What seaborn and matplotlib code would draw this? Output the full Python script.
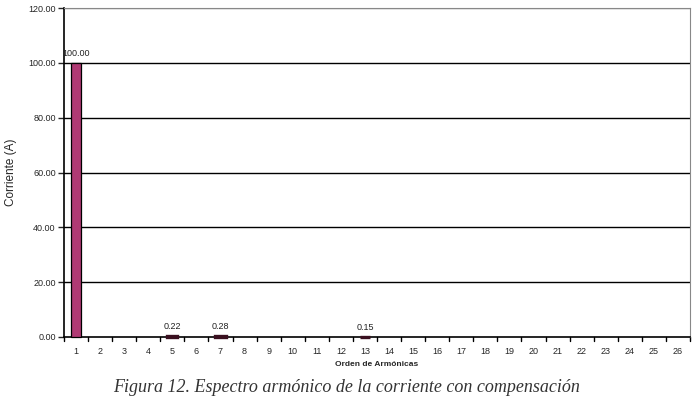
import numpy as np
import pandas as pd
from matplotlib import pyplot as plt
import seaborn as sns

orden = [str(i) for i in range(1, 27)]
corriente = [100.0, 0, 0, 0, 0.22, 0, 0.28, 0, 0, 0, 0, 0, 0.15,
             0, 0, 0, 0, 0, 0, 0, 0, 0, 0, 0, 0, 0]
yticks = [0, 20, 40, 60, 80, 100, 120]

sns.set_style("white")
plt.rcParams['font.family'] = ['Liberation Sans', 'DejaVu Sans']

df = pd.DataFrame({"orden": orden, "corriente": corriente})

fig = plt.figure(figsize=(6.94, 4.05), dpi=100)
ax = fig.add_axes([0.0922, 0.168, 0.902, 0.812])
sns.barplot(data=df, x="orden", y="corriente", color="#B03A74", saturation=1,
            width=0.42, edgecolor="black", linewidth=0.9, ax=ax)
for p, v in zip(ax.patches, corriente):
    p.set_zorder(3)
    p.set_clip_on(False)
    if v == 0:
        p.set_visible(False)
    elif v < 1:
        p.set_facecolor("#5a1f38")
        p.set_edgecolor("#3a1020")
        p.set_linewidth(2.4)

for i, v in enumerate(corriente):
    if v > 0:
        ax.text(i, v + 1.8, "%.2f" % v, ha="center", va="bottom", fontsize=6.5, color="#222222")

ax.set_ylim(0, 120)
ax.set_xlim(-0.5, len(orden) - 0.5)
ax.set_yticks(yticks)
ax.set_yticklabels(["%.2f" % t for t in yticks], fontsize=6.5)
ax.tick_params(axis="x", length=0, labelsize=6.5, pad=7)
ax.tick_params(axis="y", length=4, width=1, direction="out", left=True, pad=2)
for i in range(len(orden) + 1):
    ax.plot([i - 0.5, i - 0.5], [0, -1.3], color="black", lw=1, clip_on=False)
for t in yticks[1:-1]:
    ax.axhline(t, color="black", lw=1, zorder=0)
ax.axhline(120, color="#888888", lw=1)

for s in ["top", "right"]:
    ax.spines[s].set_color("#888888")
for s in ["left", "bottom"]:
    ax.spines[s].set_color("black")
    ax.spines[s].set_linewidth(1.2)

ax.set_xlabel("Orden de Armónicas", fontsize=6, fontweight="bold", labelpad=4)
ax.set_ylabel("Corriente (A)", fontsize=8.5, labelpad=8)

fig.text(0.5, 0.042, "Figura 12. Espectro armónico de la corriente con compensación",
         ha="center", va="center", fontsize=13, style="italic",
         family=["Liberation Serif", "DejaVu Serif"], color="#333333")

fig.savefig("out.png", dpi=100, facecolor="white")
